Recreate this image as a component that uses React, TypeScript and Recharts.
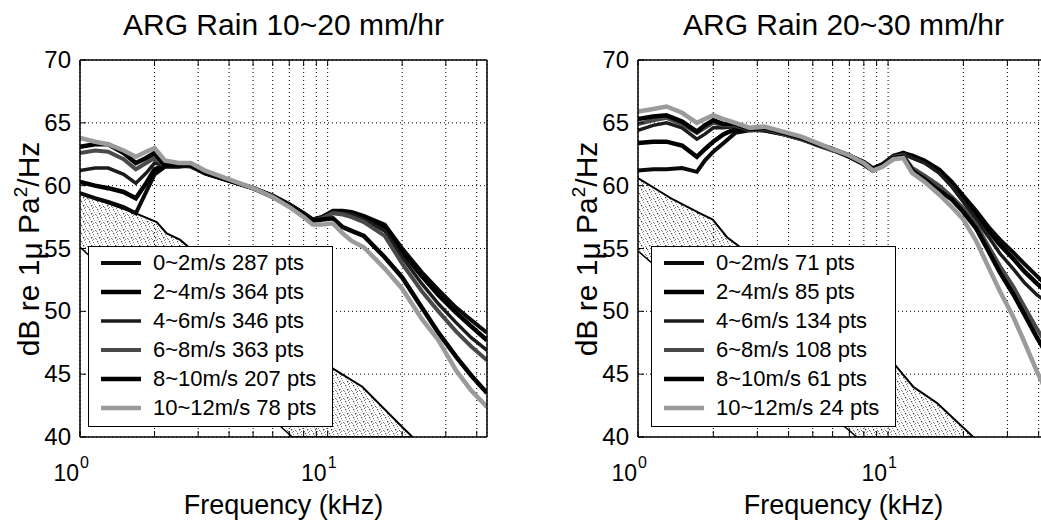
import React from "react";
import { Area, CartesianGrid, ComposedChart, Legend, Line, XAxis, YAxis } from "recharts";

const FONT = "'Liberation Sans', Arial, Helvetica, sans-serif";

const X_TICKS = [1, 2, 3, 4, 5, 6, 7, 8, 9, 10, 20, 30, 40];
const Y_TICKS = [40, 45, 50, 55, 60, 65, 70];
const WIND = ["0~2m/s", "2~4m/s", "4~6m/s", "6~8m/s", "8~10m/s", "10~12m/s"];

// ARG Rain 10~20 mm/hr
const FREQ_A = [1, 1.15, 1.3, 1.5, 1.68, 1.85, 2.0, 2.2, 2.5, 2.8, 3.2, 4, 5, 6, 7, 8, 8.7, 9.5, 10.5, 11.5, 12.5, 14, 17, 20, 24, 28, 33, 38, 44];
const A_02 = [59.4, 59.0, 58.7, 58.3, 57.8, 59.5, 60.9, 61.5, 61.5, 61.6, 61.0, 60.4, 59.8, 59.2, 58.5, 57.8, 57.3, 57.5, 58.0, 58.0, 57.9, 57.6, 56.9, 55.0, 53.1, 51.7, 50.3, 49.3, 48.3];
const A_24 = [60.3, 60.0, 59.8, 59.5, 59.0, 60.2, 61.3, 61.6, 61.6, 61.6, 61.0, 60.4, 59.8, 59.2, 58.5, 57.8, 57.3, 57.5, 57.9, 57.9, 57.8, 57.5, 56.7, 54.7, 52.8, 51.3, 49.9, 48.8, 47.7];
const A_46 = [61.2, 61.4, 61.4, 60.9, 60.2, 61.0, 61.8, 61.6, 61.6, 61.6, 61.0, 60.4, 59.8, 59.2, 58.5, 57.8, 57.3, 57.5, 57.9, 57.8, 57.7, 57.3, 56.4, 54.3, 52.2, 50.6, 49.1, 47.9, 46.9];
const A_68 = [62.6, 62.8, 62.7, 62.1, 61.3, 61.8, 62.2, 61.6, 61.6, 61.5, 61.0, 60.4, 59.8, 59.1, 58.4, 57.7, 57.2, 57.4, 57.8, 57.7, 57.5, 57.1, 56.0, 53.8, 51.6, 50.0, 48.4, 47.2, 46.1];
const A_810 = [63.1, 63.3, 63.3, 62.6, 61.8, 62.2, 62.6, 61.6, 61.6, 61.6, 61.0, 60.4, 59.8, 59.1, 58.4, 57.7, 57.2, 57.3, 57.4, 56.7, 56.4, 56.0, 54.3, 52.7, 50.3, 48.3, 46.4, 44.9, 43.5];
const A_1012 = [63.8, 63.5, 63.3, 62.8, 62.3, 62.7, 63.0, 62.0, 61.8, 61.8, 61.2, 60.5, 59.8, 59.1, 58.3, 57.5, 56.9, 56.9, 57.0, 56.2, 55.6, 55.1, 53.4, 51.8, 49.4, 47.7, 45.3, 43.7, 42.4];
const PTS_A = [287, 364, 346, 363, 207, 78];
const STIP_F_A = [1, 1.68, 2.04, 2.24, 2.53, 4, 7.2, 10.2, 13.8, 20, 22];
const STIP_HI_A = [59.4, 57.8, 57.1, 56.2, 55.7, 52.4, 48.1, 45.6, 44.0, 40.8, 40];
const STIP_LO_A = [55.1, 51.1, 49.6, 48.9, 48.0, 44.5, 40, 40, 40, 40, 40];

// ARG Rain 20~30 mm/hr
const FREQ_B = [1, 1.15, 1.3, 1.5, 1.72, 1.85, 2.0, 2.2, 2.45, 2.8, 3.2, 3.8, 4.5, 5.2, 6, 7, 8, 8.7, 9.5, 10.5, 11.5, 12.5, 14, 16, 18, 20, 22.5, 25.5, 28, 31.6, 35, 39.4, 44];
const B_02 = [61.2, 61.3, 61.3, 61.4, 61.1, 62.0, 62.7, 63.4, 64.2, 64.4, 64.4, 64.1, 63.7, 63.3, 62.9, 62.4, 61.9, 61.4, 61.7, 62.4, 62.6, 62.4, 62.0, 61.3, 60.3, 59.2, 58.0, 56.6, 55.7, 54.7, 53.8, 52.8, 51.9];
const B_24 = [63.4, 63.5, 63.5, 63.2, 62.3, 62.9, 63.5, 64.1, 64.5, 64.5, 64.4, 64.1, 63.7, 63.3, 62.9, 62.4, 61.8, 61.3, 61.7, 62.3, 62.6, 62.3, 61.9, 61.2, 60.2, 59.0, 57.7, 56.3, 55.3, 54.2, 53.2, 52.2, 51.4];
const B_46 = [64.4, 64.8, 65.0, 64.6, 63.7, 64.1, 64.6, 64.6, 64.7, 64.5, 64.5, 64.1, 63.7, 63.3, 62.9, 62.3, 61.7, 61.2, 61.6, 62.3, 62.5, 62.2, 61.8, 61.0, 59.9, 58.7, 57.3, 55.8, 54.6, 53.4, 52.3, 51.3, 50.6];
const B_68 = [64.9, 65.2, 65.4, 64.9, 64.2, 64.6, 65.0, 64.8, 64.8, 64.4, 64.5, 64.1, 63.7, 63.2, 62.8, 62.3, 61.7, 61.2, 61.6, 62.3, 62.4, 61.4, 60.8, 60.0, 59.1, 58.2, 56.9, 55.0, 53.6, 52.0, 50.4, 48.6, 47.1];
const B_810 = [65.3, 65.5, 65.6, 65.1, 64.3, 64.8, 65.2, 64.9, 64.9, 64.5, 64.6, 64.2, 63.8, 63.3, 62.9, 62.3, 61.7, 61.2, 61.6, 62.2, 62.3, 61.2, 60.5, 59.6, 58.9, 57.9, 56.6, 54.6, 53.1, 51.4, 49.8, 47.9, 46.3];
const B_1012 = [65.9, 66.1, 66.3, 65.8, 65.0, 65.3, 65.6, 65.3, 65.0, 64.6, 64.7, 64.3, 63.9, 63.4, 62.9, 62.4, 61.8, 61.2, 61.5, 62.1, 62.2, 61.0, 60.3, 59.3, 58.3, 57.3, 55.6, 53.3, 51.6, 49.6, 47.6, 45.2, 43.2];
const PTS_B = [71, 85, 134, 108, 61, 24];
const STIP_F_B = [1, 1.38, 1.77, 1.99, 2.27, 4, 7.5, 10.5, 12.6, 15.7, 21.9];
const STIP_HI_B = [60.6, 58.9, 57.8, 57.3, 55.9, 52.2, 48.1, 45.9, 44.0, 42.7, 40];
const STIP_LO_B = [54.8, 52.4, 50.6, 49.7, 48.8, 44.6, 40, 40, 40, 40, 40];

const LINE_STYLE = [
  { stroke: "#0a0a0a", width: 4 },
  { stroke: "#000000", width: 4.5 },
  { stroke: "#1c1c1c", width: 3.5 },
  { stroke: "#4a4a4a", width: 4 },
  { stroke: "#000000", width: 4.5 },
  { stroke: "#9b9b9b", width: 4.5 },
];

const BottomTick = (p: any) => {
  const { x, y, payload } = p;
  const exp = payload.value === 1 ? "0" : payload.value === 10 ? "1" : null;
  return (
    <g>
      <line x1={x} x2={x} y1={y} y2={y - 6} stroke="#000" strokeWidth={1} />
      {exp && (
        <text fontFamily={FONT} fill="#000">
          <tspan x={x - 1} y={y + 44} textAnchor="end" fontSize={23}>10</tspan>
          <tspan x={x} y={y + 31} textAnchor="start" fontSize={16}>{exp}</tspan>
        </text>
      )}
    </g>
  );
};

const TopTick = (p: any) => <line x1={p.x} x2={p.x} y1={p.y} y2={p.y + 6} stroke="#000" strokeWidth={1} />;

const LeftTick = (p: any) => (
  <g>
    <line x1={p.x} x2={p.x + 6} y1={p.y} y2={p.y} stroke="#000" strokeWidth={1} />
    <text x={p.x - 9} y={p.y + 8} textAnchor="end" fontSize={24} fontFamily={FONT} fill="#000">
      {p.payload.value}
    </text>
  </g>
);

const RightTick = (p: any) => <line x1={p.x} x2={p.x - 6} y1={p.y} y2={p.y} stroke="#000" strokeWidth={1} />;

function LegendBox({ pts }: { pts: number[] }) {
  return (
    <div
      style={{
        position: "relative",
        width: 245,
        height: 181,
        boxSizing: "border-box",
        border: "1.5px solid #000",
        background: "#fff",
        fontFamily: FONT,
      }}
    >
      {WIND.map((w, k) => (
        <div
          key={w}
          style={{ position: "absolute", left: 12, top: 2 + k * 29, height: 28, display: "flex", alignItems: "center" }}
        >
          <svg width={40} height={8}>
            <line x1={0} x2={40} y1={4} y2={4} stroke={LINE_STYLE[k].stroke} strokeWidth={LINE_STYLE[k].width} />
          </svg>
          <span style={{ marginLeft: 12, fontSize: 22, color: "#000", whiteSpace: "nowrap" }}>
            {w} {pts[k]} pts
          </span>
        </div>
      ))}
    </div>
  );
}

type PanelProps = {
  id: string;
  title: string;
  left: number;
  plotW: number;
  legendX: number;
  freq: number[];
  series: number[][];
  pts: number[];
  stipF: number[];
  stipHi: number[];
  stipLo: number[];
};

function Panel({ id, title, left, plotW, legendX, freq, series, pts, stipF, stipHi, stipLo }: PanelProps) {
  const rows = freq.map((f, i) => {
    const r: any = { f };
    series.forEach((s, k) => (r["s" + k] = s[i]));
    return r;
  });
  const stip = stipF.map((f, i) => ({ f, band: [stipLo[i], stipHi[i]], hi: stipHi[i], lo: stipLo[i] }));
  // plot area: x 80 .. 80+plotW, y 60 .. 437 (axes take 1px each)
  const M = { top: 59, right: 32, bottom: 89, left: 79 };
  const W = 80 + plotW + 33;
  const H = 527;
  const cx = 80 + plotW / 2;

  return (
    <div style={{ position: "absolute", left, top: 0, width: W, height: H }}>
      <ComposedChart width={W} height={H} data={rows} margin={M}>
        <defs>
          <pattern id={"stip-" + id} width={8} height={8} patternUnits="userSpaceOnUse">
            <rect x={1} y={1} width={1.2} height={1.2} fill="#444" />
            <rect x={5} y={2} width={1} height={1} fill="#777" />
            <rect x={3} y={5} width={1.3} height={1.3} fill="#333" />
            <rect x={7} y={6} width={1} height={1} fill="#666" />
            <rect x={0} y={7} width={1} height={1} fill="#888" />
            <rect x={6} y={4} width={1} height={1} fill="#999" />
            <rect x={2} y={3} width={1} height={1} fill="#aaa" />
            <rect x={4} y={0} width={1} height={1} fill="#888" />
            <rect x={5} y={7} width={1} height={1} fill="#777" />
          </pattern>
        </defs>
        <CartesianGrid stroke="#000" strokeDasharray="1 3" strokeWidth={1} />
        <XAxis
          dataKey="f"
          type="number"
          scale="log"
          domain={[1, 44]}
          allowDataOverflow
          ticks={X_TICKS}
          interval={0}
          tickSize={0}
          tickMargin={0}
          height={1}
          axisLine={{ stroke: "#000", strokeWidth: 1.5 }}
          tick={BottomTick}
        />
        <XAxis
          xAxisId="top"
          orientation="top"
          dataKey="f"
          type="number"
          scale="log"
          domain={[1, 44]}
          allowDataOverflow
          ticks={X_TICKS}
          interval={0}
          tickSize={0}
          tickMargin={0}
          height={1}
          axisLine={{ stroke: "#000", strokeWidth: 1.5 }}
          tick={TopTick}
        />
        <YAxis
          type="number"
          domain={[40, 70]}
          allowDataOverflow
          ticks={Y_TICKS}
          interval={0}
          width={1}
          tickSize={0}
          tickMargin={0}
          axisLine={{ stroke: "#000", strokeWidth: 1.5 }}
          tick={LeftTick}
        />
        <YAxis
          yAxisId="right"
          orientation="right"
          type="number"
          domain={[40, 70]}
          ticks={Y_TICKS}
          interval={0}
          width={1}
          tickSize={0}
          tickMargin={0}
          axisLine={{ stroke: "#000", strokeWidth: 1.5 }}
          tick={RightTick}
        />
        <Area
          data={stip}
          dataKey="band"
          type="linear"
          stroke="none"
          fill={`url(#stip-${id})`}
          fillOpacity={1}
          isAnimationActive={false}
          legendType="none"
        />
        <Line data={stip} dataKey="hi" type="linear" stroke="#000" strokeWidth={2} dot={false} isAnimationActive={false} legendType="none" />
        <Line data={stip} dataKey="lo" type="linear" stroke="#000" strokeWidth={1.5} dot={false} isAnimationActive={false} legendType="none" />
        {series.map((_, k) => (
          <Line
            key={k}
            dataKey={"s" + k}
            name={WIND[k]}
            type="linear"
            stroke={LINE_STYLE[k].stroke}
            strokeWidth={LINE_STYLE[k].width}
            dot={false}
            isAnimationActive={false}
          />
        ))}
        <Legend
          layout="vertical"
          align="center"
          verticalAlign="middle"
          content={() => <LegendBox pts={pts} />}
          wrapperStyle={{ left: legendX, top: 246, width: 245, height: 181 }}
        />
        <text x={cx} y={35} textAnchor="middle" fontSize={30} fontFamily={FONT} fill="#000">
          {title}
        </text>
        <text x={cx} y={514} textAnchor="middle" fontSize={27} fontFamily={FONT} fill="#000">
          Frequency (kHz)
        </text>
        <text
          x={39}
          y={249}
          transform="rotate(-90, 39, 249)"
          textAnchor="middle"
          fontSize={30}
          fontFamily={FONT}
          fill="#000"
        >
          dB re 1<tspan dy={3}>μ</tspan>
          <tspan dy={-3}> Pa</tspan>
          <tspan dy={-12} fontSize={19}>2</tspan>
          <tspan dy={12}>/Hz</tspan>
        </text>
      </ComposedChart>
    </div>
  );
}

export default function App() {
  return (
    <div
      style={{
        position: "fixed",
        left: 0,
        top: 0,
        width: 1041,
        height: 527,
        overflow: "hidden",
        background: "#fff",
      }}
    >
      <Panel
        id="a"
        title="ARG Rain 10~20 mm/hr"
        left={0}
        plotW={407}
        legendX={88}
        freq={FREQ_A}
        series={[A_02, A_24, A_46, A_68, A_810, A_1012]}
        pts={PTS_A}
        stipF={STIP_F_A}
        stipHi={STIP_HI_A}
        stipLo={STIP_LO_A}
      />
      <Panel
        id="b"
        title="ARG Rain 20~30 mm/hr"
        left={558}
        plotW={411}
        legendX={93}
        freq={FREQ_B}
        series={[B_02, B_24, B_46, B_68, B_810, B_1012]}
        pts={PTS_B}
        stipF={STIP_F_B}
        stipHi={STIP_HI_B}
        stipLo={STIP_LO_B}
      />
    </div>
  );
}
